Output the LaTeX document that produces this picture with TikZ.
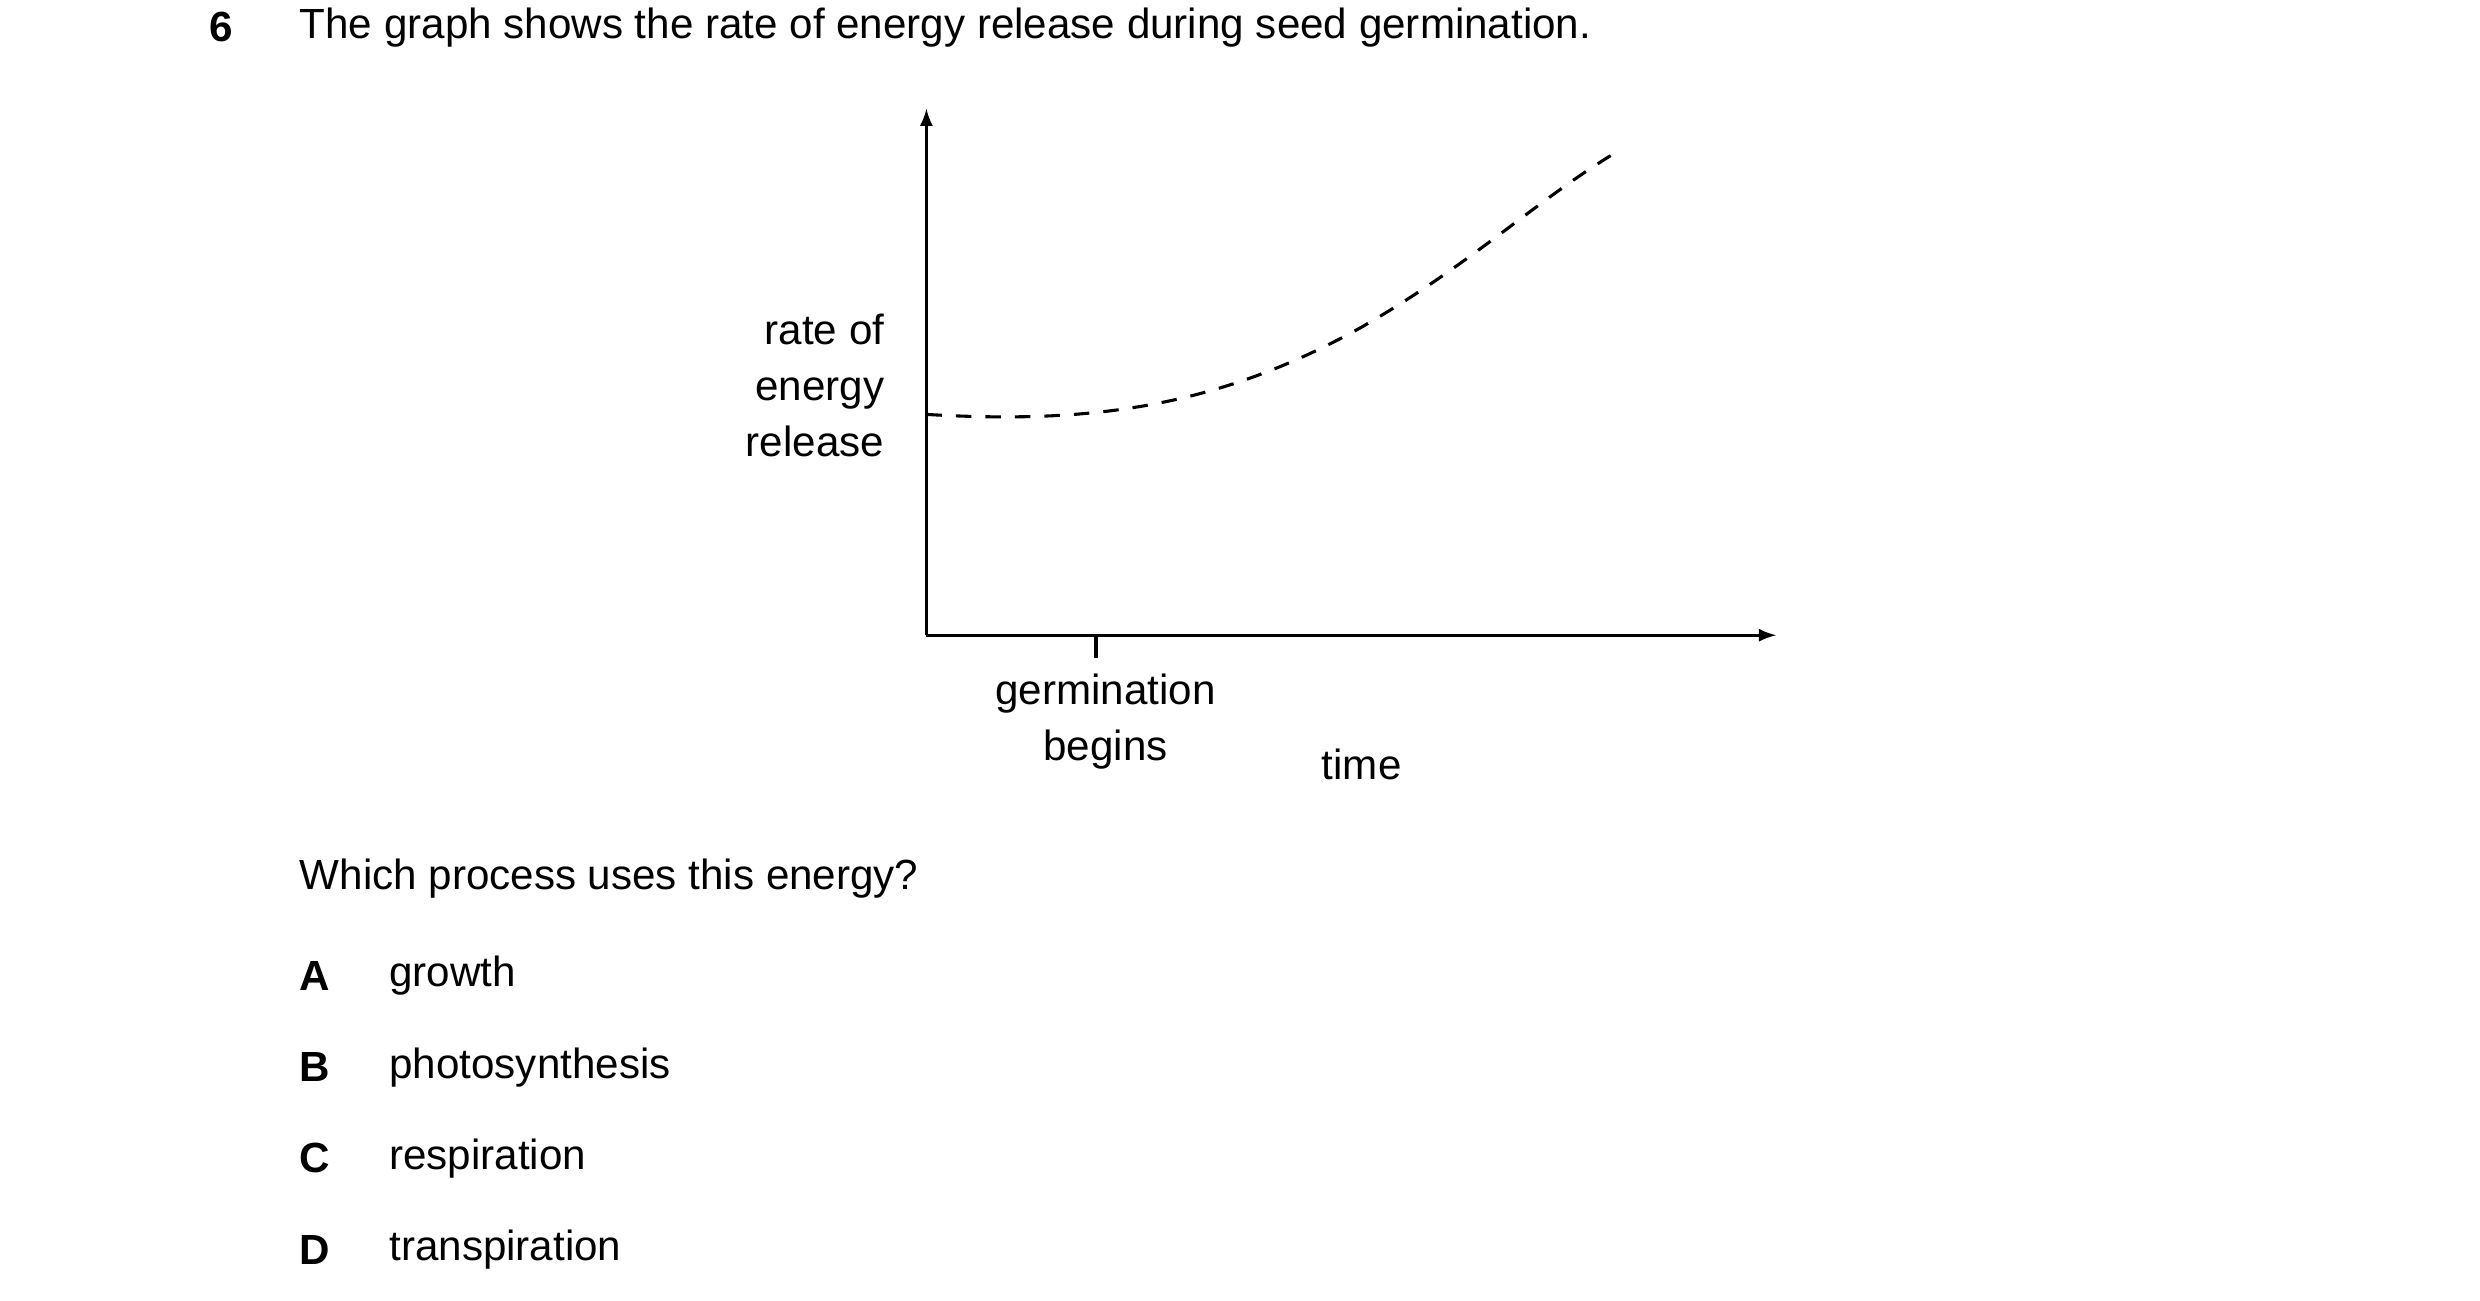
\documentclass[tikz,border=0pt]{standalone}
\usepackage{fontspec}
\setmainfont{Liberation Sans}
\begin{document}
\begin{tikzpicture}[x=0.02cm,y=-0.02cm,
 txt/.style={font=\fontsize{15}{18}\selectfont,inner sep=0pt},
 ax/.style={line width=1.1pt,-latex}]
\useasboundingbox (0,0) rectangle (1550,812.5);
\node[txt,font=\fontsize{15}{18}\selectfont\bfseries] (n6) at (138,17) {6};
\node[txt,anchor=west] (q) at (187,17) {The graph shows the rate of energy release during seed germination.};
\coordinate (o) at (579,397);
\coordinate (yt) at (579,68);
\coordinate (xt) at (1110,397);
\draw[ax] (o) -- (yt);
\draw[ax] (o) -- (xt);
\coordinate (t0) at (685,397);
\coordinate (t1) at (685,411);
\draw[line width=1.1pt] (t0) -- (t1);
\coordinate (c0) at (579,259);
\coordinate (c1) at (1012,94);
\draw[line width=1.1pt,dash pattern=on 5.5pt off 5pt] (c0) .. controls (680,265) and (760,255) .. (850,205) .. controls (920,165) and (960,125) .. (c1);
\node[txt,anchor=east,align=right] (yl) at (553,241) {rate of\\[2pt]energy\\[2pt]release};
\node[txt,align=center] (gb) at (691,451) {germination\\[2pt]begins};
\node[txt] (tm) at (851,478) {time};
\node[txt,anchor=west] (w) at (187,549) {Which process uses this energy?};
\foreach \l/\t/\y in {A/growth/610,B/photosynthesis/667,C/respiration/724,D/transpiration/781}{
 \node[txt,font=\fontsize{15}{18}\selectfont\bfseries] (l\l) at (197,\y) {\l};
 \node[txt,anchor=west] (o\l) at (243,\y) {\t};
}
\end{tikzpicture}
\end{document}
